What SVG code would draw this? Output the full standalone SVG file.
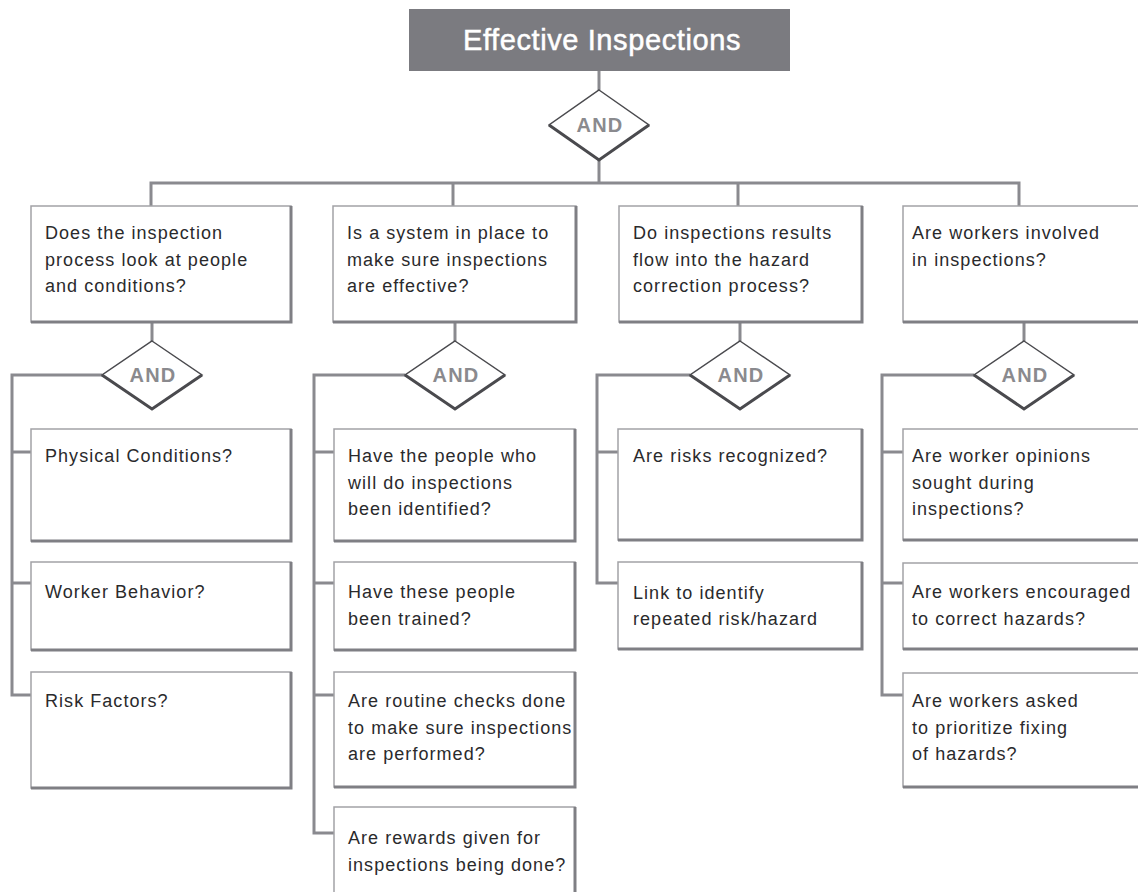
<svg xmlns="http://www.w3.org/2000/svg" width="1138" height="892" viewBox="0 0 1138 892">
<style>
.bg{fill:#ffffff}
.box{fill:#ffffff;stroke:#a2a2a6;stroke-width:1.5}
.sh{fill:none;stroke:#7f7f84;stroke-width:3}
.dia{fill:#ffffff;stroke:#4a4a4e;stroke-width:1.5;stroke-linejoin:miter}
.dsh{fill:none;stroke:#4a4a4e;stroke-width:3}
.con{fill:none;stroke:#8a8a8f;stroke-width:3;stroke-linejoin:miter}
.t{font-family:"Liberation Sans",Arial,sans-serif;font-size:18px;letter-spacing:1.05px;fill:#2a2a2c}
.and{font-family:"Liberation Sans",Arial,sans-serif;font-size:20px;font-weight:bold;letter-spacing:1.2px;fill:#8a8a8e;text-anchor:middle}
.title{font-family:"Liberation Sans",Arial,sans-serif;font-size:29px;letter-spacing:0.6px;fill:#ffffff;stroke:#ffffff;stroke-width:0.5;text-anchor:middle}
</style>
<rect class="bg" x="0" y="0" width="1138" height="892"/>

<g id="connectors">
<path class="con" d="M599,71 V90"/>
<path class="con" d="M599,160 V183"/>
<path class="con" d="M151,206 V183 H1019 V206"/>
<path class="con" d="M453,183 V206"/>
<path class="con" d="M738,183 V206"/>
<path class="con" d="M152,322 V341"/>
<path class="con" d="M455,322 V341"/>
<path class="con" d="M740,322 V341"/>
<path class="con" d="M1024,322 V341"/>
<path class="con" d="M102,375 H12 V695 H31"/>
<path class="con" d="M12,452 H31 M12,583 H31"/>
<path class="con" d="M405,375 H314 V833 H334"/>
<path class="con" d="M314,452 H334 M314,583 H334 M314,695 H334"/>
<path class="con" d="M690,375 H597 V583 H618"/>
<path class="con" d="M597,452 H618"/>
<path class="con" d="M974,375 H882 V695 H903"/>
<path class="con" d="M882,452 H903 M882,583 H903"/>
</g>

<g id="root">
<rect x="409" y="9" width="381" height="62" fill="#7b7b80"/>
<text class="title" x="602" y="50">Effective Inspections</text>
</g>

<g id="and-root">
<polygon class="dia" points="599,90 649,125 599,160 549,125"/>
<path class="dsh" d="M549,125 L599,160 L649,125"/>
<text class="and" x="600" y="132">AND</text>
</g>

<g id="q1">
<rect class="box" x="31" y="206" width="260" height="116"/>
<path class="sh" d="M291,206 V322 H31"/>
<text class="t" x="45" y="239">Does the inspection</text>
<text class="t" x="45" y="265.5">process look at people</text>
<text class="t" x="45" y="292">and conditions?</text>
</g>
<g id="q2">
<rect class="box" x="333" y="206" width="243" height="116"/>
<path class="sh" d="M576,206 V322 H333"/>
<text class="t" x="347" y="239">Is a system in place to</text>
<text class="t" x="347" y="265.5">make sure inspections</text>
<text class="t" x="347" y="292">are effective?</text>
</g>
<g id="q3">
<rect class="box" x="619" y="206" width="243" height="116"/>
<path class="sh" d="M862,206 V322 H619"/>
<text class="t" x="633" y="239">Do inspections results</text>
<text class="t" x="633" y="265.5">flow into the hazard</text>
<text class="t" x="633" y="292">correction process?</text>
</g>
<g id="q4">
<rect class="box" x="903" y="206" width="245" height="116"/>
<path class="sh" d="M1148,206 V322 H903"/>
<text class="t" x="912" y="239">Are workers involved</text>
<text class="t" x="912" y="265.5">in inspections?</text>
</g>

<g id="and-1">
<polygon class="dia" points="152,341 202,375 152,409 102,375"/>
<path class="dsh" d="M102,375 L152,409 L202,375"/>
<text class="and" x="153" y="382">AND</text>
</g>
<g id="and-2">
<polygon class="dia" points="455,341 505,375 455,409 405,375"/>
<path class="dsh" d="M405,375 L455,409 L505,375"/>
<text class="and" x="456" y="382">AND</text>
</g>
<g id="and-3">
<polygon class="dia" points="740,341 790,375 740,409 690,375"/>
<path class="dsh" d="M690,375 L740,409 L790,375"/>
<text class="and" x="741" y="382">AND</text>
</g>
<g id="and-4">
<polygon class="dia" points="1024,341 1074,375 1024,409 974,375"/>
<path class="dsh" d="M974,375 L1024,409 L1074,375"/>
<text class="and" x="1025" y="382">AND</text>
</g>

<g id="c1a">
<rect class="box" x="31" y="429" width="260" height="112"/>
<path class="sh" d="M291,429 V541 H31"/>
<text class="t" x="45" y="462">Physical Conditions?</text>
</g>
<g id="c1b">
<rect class="box" x="31" y="562" width="260" height="88"/>
<path class="sh" d="M291,562 V650 H31"/>
<text class="t" x="45" y="598">Worker Behavior?</text>
</g>
<g id="c1c">
<rect class="box" x="31" y="672" width="260" height="116"/>
<path class="sh" d="M291,672 V788 H31"/>
<text class="t" x="45" y="707">Risk Factors?</text>
</g>

<g id="c2a">
<rect class="box" x="334" y="429" width="241" height="112"/>
<path class="sh" d="M575,429 V541 H334"/>
<text class="t" x="348" y="462">Have the people who</text>
<text class="t" x="348" y="488.5">will do inspections</text>
<text class="t" x="348" y="515">been identified?</text>
</g>
<g id="c2b">
<rect class="box" x="334" y="562" width="241" height="88"/>
<path class="sh" d="M575,562 V650 H334"/>
<text class="t" x="348" y="598">Have these people</text>
<text class="t" x="348" y="625">been trained?</text>
</g>
<g id="c2c">
<rect class="box" x="334" y="672" width="241" height="115"/>
<path class="sh" d="M575,672 V787 H334"/>
<text class="t" x="348" y="707">Are routine checks done</text>
<text class="t" x="348" y="733.5">to make sure inspections</text>
<text class="t" x="348" y="760">are performed?</text>
</g>
<g id="c2d">
<rect class="box" x="334" y="807" width="241" height="100"/>
<path class="sh" d="M575,807 V907"/>
<text class="t" x="348" y="844">Are rewards given for</text>
<text class="t" x="348" y="871">inspections being done?</text>
</g>

<g id="c3a">
<rect class="box" x="618" y="429" width="244" height="111"/>
<path class="sh" d="M862,429 V540 H618"/>
<text class="t" x="633" y="462">Are risks recognized?</text>
</g>
<g id="c3b">
<rect class="box" x="618" y="562" width="244" height="87"/>
<path class="sh" d="M862,562 V649 H618"/>
<text class="t" x="633" y="599">Link to identify</text>
<text class="t" x="633" y="625">repeated risk/hazard</text>
</g>

<g id="c4a">
<rect class="box" x="903" y="429" width="245" height="111"/>
<path class="sh" d="M1148,429 V540 H903"/>
<text class="t" x="912" y="462">Are worker opinions</text>
<text class="t" x="912" y="488.5">sought during</text>
<text class="t" x="912" y="515">inspections?</text>
</g>
<g id="c4b">
<rect class="box" x="903" y="563" width="245" height="86"/>
<path class="sh" d="M1148,563 V649 H903"/>
<text class="t" x="912" y="598">Are workers encouraged</text>
<text class="t" x="912" y="625">to correct hazards?</text>
</g>
<g id="c4c">
<rect class="box" x="903" y="673" width="245" height="114"/>
<path class="sh" d="M1148,673 V787 H903"/>
<text class="t" x="912" y="707">Are workers asked</text>
<text class="t" x="912" y="733.5">to prioritize fixing</text>
<text class="t" x="912" y="760">of hazards?</text>
</g>
</svg>
